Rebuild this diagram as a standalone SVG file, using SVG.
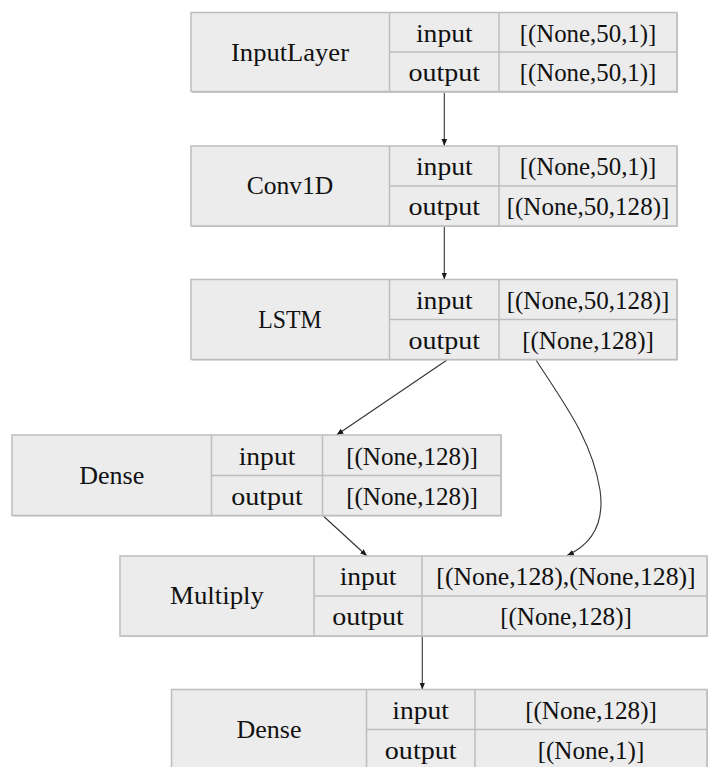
<svg xmlns="http://www.w3.org/2000/svg" width="708" height="767" viewBox="0 0 708 767">
  <style>
    .shadow { fill: #c9c9c9; }
    .box { fill: #ececec; stroke: #bdbdbd; stroke-width: 1.5; }
    .div { stroke: #bdbdbd; stroke-width: 1.5; fill: none; }
    text { font-family: "Liberation Serif", "DejaVu Serif", serif; font-size: 25px; fill: #111111; text-anchor: middle; }
    .edge { stroke: #333333; stroke-width: 1.1; fill: none; marker-end: url(#arrow); }
  </style>
  <defs>
    <marker id="arrow" viewBox="0 0 10 10" refX="10" refY="5" markerWidth="7" markerHeight="7" markerUnits="userSpaceOnUse" orient="auto">
      <path d="M0,1 L10,5 L0,9 Z" fill="#1a1a1a"/>
    </marker>
  </defs>

  <!-- Connectors -->
  <g id="edges">
    <path class="edge" d="M444.3,92 L444.3,146"/>
    <path class="edge" d="M444.3,226 L444.3,279.5"/>
    <path class="edge" d="M447,360 L336.5,435"/>
    <path class="edge" d="M536,360 C565,405 592,440 600,490 C605,525 590,545 567,555.5"/>
    <path class="edge" d="M323.3,516 L367,556"/>
    <path class="edge" d="M422.3,636 L422.3,689.5"/>
  </g>

  <!-- InputLayer -->
  <g id="node-inputlayer">
    <rect class="shadow" x="192" y="13.5" width="486" height="79.5"/>
    <rect class="box" x="191" y="12.5" width="486" height="79"/>
    <path class="div" d="M389.5,12.5 V91.5 M499,12.5 V91.5 M389.5,52 H677"/>
    <text x="290" y="60.5" textLength="118" lengthAdjust="spacingAndGlyphs">InputLayer</text>
    <text x="444.3" y="41.7" textLength="56.7" lengthAdjust="spacingAndGlyphs">input</text>
    <text x="444.3" y="81.2" textLength="71.7" lengthAdjust="spacingAndGlyphs">output</text>
    <text x="588" y="41.7" textLength="136.7" lengthAdjust="spacingAndGlyphs">[(None,50,1)]</text>
    <text x="588" y="81.2" textLength="136.7" lengthAdjust="spacingAndGlyphs">[(None,50,1)]</text>
  </g>

  <!-- Conv1D -->
  <g id="node-conv1d">
    <rect class="shadow" x="192" y="147" width="486" height="80"/>
    <rect class="box" x="191" y="146" width="486" height="80"/>
    <path class="div" d="M389.5,146 V226 M499,146 V226 M389.5,186 H677"/>
    <text x="290" y="194.3" textLength="86.7" lengthAdjust="spacingAndGlyphs">Conv1D</text>
    <text x="444.3" y="175.2" textLength="56.7" lengthAdjust="spacingAndGlyphs">input</text>
    <text x="444.3" y="215.2" textLength="71.7" lengthAdjust="spacingAndGlyphs">output</text>
    <text x="588" y="175.2" textLength="136.7" lengthAdjust="spacingAndGlyphs">[(None,50,1)]</text>
    <text x="588" y="215.2" textLength="162.7" lengthAdjust="spacingAndGlyphs">[(None,50,128)]</text>
  </g>

  <!-- LSTM -->
  <g id="node-lstm">
    <rect class="shadow" x="192" y="280.5" width="486" height="80"/>
    <rect class="box" x="191" y="279.5" width="486" height="80"/>
    <path class="div" d="M389.5,279.5 V359.5 M499,279.5 V359.5 M389.5,319.5 H677"/>
    <text x="290" y="327.8" textLength="63.3" lengthAdjust="spacingAndGlyphs">LSTM</text>
    <text x="444.3" y="308.7" textLength="56.7" lengthAdjust="spacingAndGlyphs">input</text>
    <text x="444.3" y="348.7" textLength="71.7" lengthAdjust="spacingAndGlyphs">output</text>
    <text x="588" y="308.7" textLength="162.7" lengthAdjust="spacingAndGlyphs">[(None,50,128)]</text>
    <text x="588" y="348.7" textLength="131.7" lengthAdjust="spacingAndGlyphs">[(None,128)]</text>
  </g>

  <!-- Dense (hidden) -->
  <g id="node-dense-1">
    <rect class="shadow" x="13" y="436" width="489" height="80.5"/>
    <rect class="box" x="12" y="435" width="489" height="80.5"/>
    <path class="div" d="M211.5,435 V515.5 M322.5,435 V515.5 M211.5,475.5 H501"/>
    <text x="111.7" y="483.8" textLength="65" lengthAdjust="spacingAndGlyphs">Dense</text>
    <text x="267" y="464.7" textLength="56.7" lengthAdjust="spacingAndGlyphs">input</text>
    <text x="267" y="504.7" textLength="71.7" lengthAdjust="spacingAndGlyphs">output</text>
    <text x="412" y="464.7" textLength="131.7" lengthAdjust="spacingAndGlyphs">[(None,128)]</text>
    <text x="412" y="504.7" textLength="131.7" lengthAdjust="spacingAndGlyphs">[(None,128)]</text>
  </g>

  <!-- Multiply -->
  <g id="node-multiply">
    <rect class="shadow" x="121" y="557" width="587" height="80"/>
    <rect class="box" x="120" y="556" width="587" height="80"/>
    <path class="div" d="M314,556 V636 M422,556 V636 M314,596 H707"/>
    <text x="217" y="604.3" textLength="94" lengthAdjust="spacingAndGlyphs">Multiply</text>
    <text x="368" y="585.2" textLength="56.7" lengthAdjust="spacingAndGlyphs">input</text>
    <text x="368" y="625.2" textLength="71.7" lengthAdjust="spacingAndGlyphs">output</text>
    <text x="566" y="585.2" textLength="259.3" lengthAdjust="spacingAndGlyphs">[(None,128),(None,128)]</text>
    <text x="566" y="625.2" textLength="131.7" lengthAdjust="spacingAndGlyphs">[(None,128)]</text>
  </g>

  <!-- Dense (output) -->
  <g id="node-dense-2">
    <rect class="shadow" x="172.5" y="690.5" width="535.5" height="80"/>
    <rect class="box" x="171.5" y="689.5" width="535.5" height="80"/>
    <path class="div" d="M366.5,689.5 V769.5 M475,689.5 V769.5 M366.5,729.5 H707"/>
    <text x="269" y="737.8" textLength="65" lengthAdjust="spacingAndGlyphs">Dense</text>
    <text x="420.7" y="718.7" textLength="56.7" lengthAdjust="spacingAndGlyphs">input</text>
    <text x="420.7" y="758.7" textLength="71.7" lengthAdjust="spacingAndGlyphs">output</text>
    <text x="591" y="718.7" textLength="131.7" lengthAdjust="spacingAndGlyphs">[(None,128)]</text>
    <text x="591" y="758.7" textLength="106.7" lengthAdjust="spacingAndGlyphs">[(None,1)]</text>
  </g>
</svg>
